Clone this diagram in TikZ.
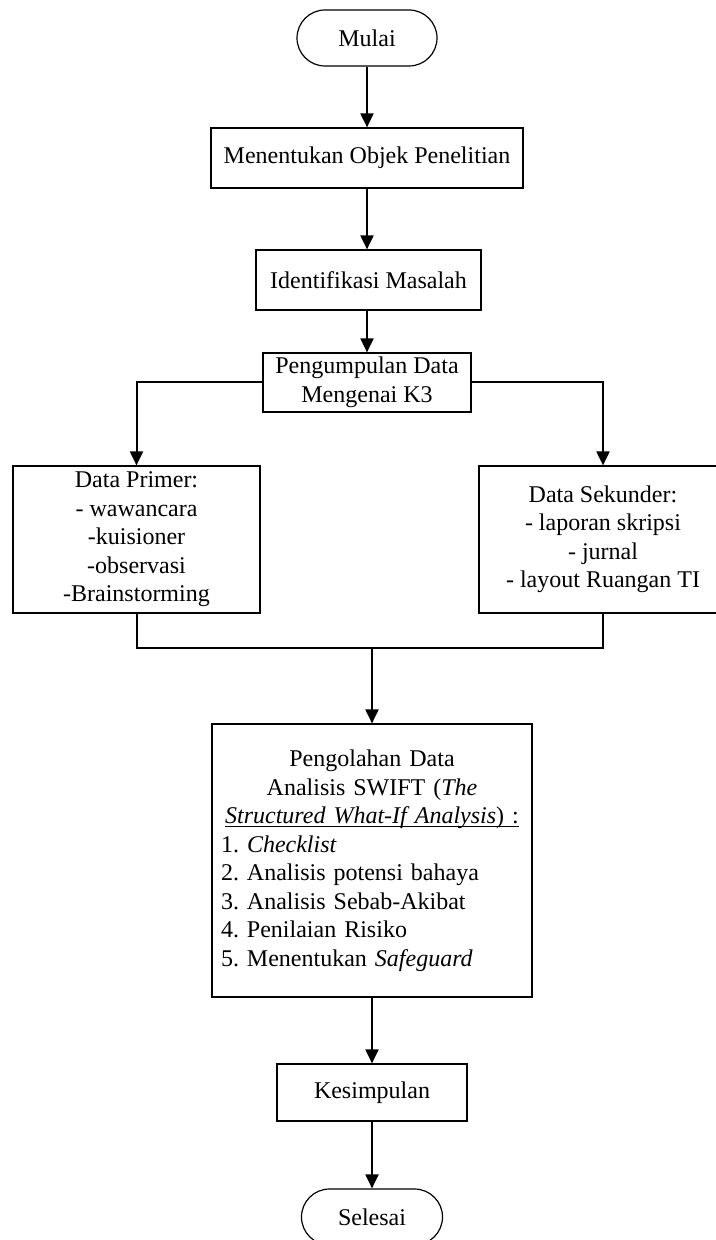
\documentclass[tikz,border=0pt]{standalone}
\usepackage{fontspec}
\setmainfont{Liberation Serif}
\usepackage{tikz}
\usetikzlibrary{arrows.meta}
\frenchspacing
\newsavebox{\kotakgaris}
\newcommand{\garisbawah}[1]{\leavevmode\sbox{\kotakgaris}{#1}\rlap{\rule[-1.6pt]{\wd\kotakgaris}{0.5pt}}\usebox{\kotakgaris}}
\tikzstyle{terminal}=[draw=black, line width=0.6pt, rounded corners=14pt, minimum width=70pt, minimum height=28pt, inner sep=0pt, font=\fontsize{12}{14.25}\selectfont]
\tikzstyle{proses}=[draw=black, line width=0.6pt, inner sep=0pt, align=center, font=\fontsize{12}{14.25}\selectfont]
\tikzstyle{panah}=[draw=black, line width=1pt, -{Triangle[length=7pt, width=6.5pt]}]
\tikzstyle{garis}=[draw=black, line width=1pt]

\begin{document}
\begin{tikzpicture}[x=0.5pt, y=-0.5pt]
		\clip (0,0) rectangle (716,1240);
		\node[terminal](mulai) at (367,38) {Mulai};
		\node[proses, minimum width=156pt, minimum height=30pt](objek) at (367,158) {Menentukan Objek Penelitian};
		\node[proses, minimum width=112.5pt, minimum height=30pt](identifikasi) at (368.5,280) {Identifikasi Masalah};
		\node[proses, minimum width=104pt, minimum height=29.5pt](pengumpulan) at (367,382.5) {Pengumpulan Data\\Mengenai K3};
		\node[proses, minimum width=123.5pt, minimum height=73.5pt](primer) at (136.5,539.5) {Data Primer:\\- wawancara\\-kuisioner\\-observasi\\-Brainstorming};
		\node[proses, minimum width=124pt, minimum height=73.5pt](sekunder) at (603,539.5) {Data Sekunder:\\- laporan skripsi\\- jurnal\\- layout Ruangan TI};
		\node[proses, minimum width=160pt, minimum height=136.5pt, text width=151pt, align=left](pengolahan) at (372,860.5) {{\centering Pengolahan Data\\Analisis SWIFT (\textit{The}\\\garisbawah{\textit{Structured What-If Analysis}) :}\par}1. \textit{Checklist}\\2. Analisis potensi bahaya\\3. Analisis Sebab-Akibat\\4. Penilaian Risiko\\5. Menentukan \textit{Safeguard}};
		\node[proses, minimum width=95pt, minimum height=28.5pt](kesimpulan) at (372,1092.5) {Kesimpulan};
		\node[terminal, minimum width=70.5pt](selesai) at (372,1217) {Selesai};
		\coordinate (gabung) at (372,648);
		\path[panah] (mulai) -- (objek);
		\path[panah] (objek) -- (objek |- identifikasi.north);
		\path[panah] (identifikasi.south -| pengumpulan) -- (pengumpulan.north);
		\path[panah] (pengumpulan.west) -| (primer.north);
		\path[panah] (pengumpulan.east) -| (sekunder.north);
		\path[garis] (primer.south) |- (gabung);
		\path[garis] (sekunder.south) |- (gabung);
		\path[panah] (gabung) -- (pengolahan.north);
		\path[panah] (pengolahan) -- (kesimpulan);
		\path[panah] (kesimpulan) -- (selesai);
	\end{tikzpicture}
\end{document}
